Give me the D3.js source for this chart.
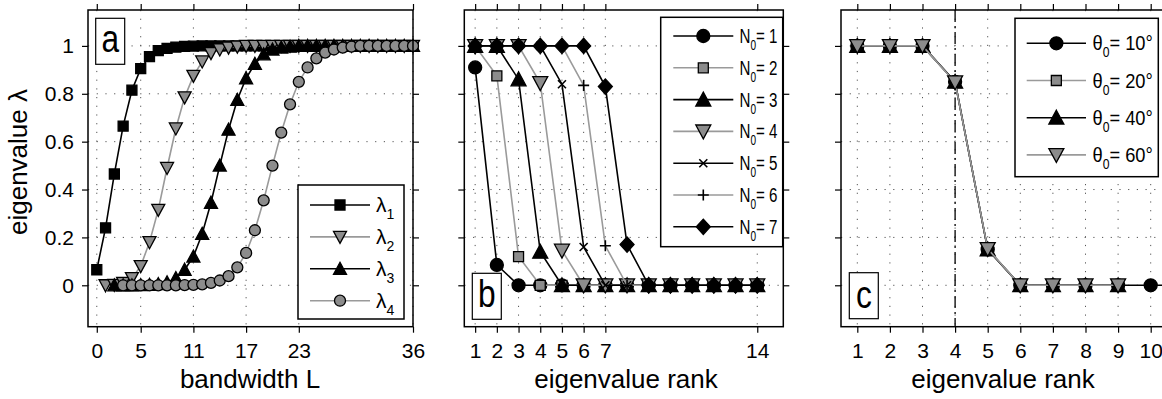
<!DOCTYPE html>
<html>
<head>
<meta charset="utf-8">
<script src="https://cdn.jsdelivr.net/npm/d3@7"></script>
<style>
  body { margin: 0; background: #fff; }
  svg { display: block; }
  text { font-family: "Liberation Sans", Arial, Helvetica, sans-serif; fill: #000; }
</style>
</head>
<body>
<svg id="chart" width="1162" height="399"></svg>
<script>
// ---- data ----
// panel a: eigenvalues vs bandwidth L, lambda_k starts at L = k-1
const lambda1 = [0.065, 0.24, 0.465, 0.665, 0.815, 0.905, 0.955, 0.98, 0.99, 0.995, 0.998, 0.999,
  1, 1, 1, 1, 1, 1, 1, 1, 1, 1, 1, 1, 1, 1, 1, 1, 1, 1, 1, 1, 1, 1, 1, 1, 1];
const lambda2 = [0, 0.002, 0.01, 0.03, 0.08, 0.18, 0.315, 0.49, 0.655, 0.785, 0.875, 0.935, 0.97, 0.985, 0.993, 0.997,
  1, 1, 1, 1, 1, 1, 1, 1, 1, 1, 1, 1, 1, 1, 1, 1, 1, 1, 1, 1];
const lambda3 = [0, 0, 0, 0.001, 0.002, 0.005, 0.012, 0.03, 0.065, 0.12, 0.215, 0.345, 0.5, 0.65, 0.775, 0.865,
  0.925, 0.965, 0.985, 0.993, 0.997, 1, 1, 1, 1, 1, 1, 1, 1, 1, 1, 1, 1, 1, 1];
const lambda4 = [0, 0, 0, 0, 0, 0, 0, 0.001, 0.002, 0.004, 0.01, 0.02, 0.038, 0.075, 0.135, 0.23, 0.355, 0.5,
  0.638, 0.756, 0.85, 0.91, 0.948, 0.972, 0.985, 0.993, 0.997, 1, 1, 1, 1, 1, 1, 1];
const ticksA = [0, 5, 11, 17, 23, 36];

// panel b: eigenvalues vs rank for N0 = 1..7
const n01 = [0.91, 0.085, 0, 0, 0, 0, 0, 0, 0, 0, 0, 0, 0, 0];
const n02 = [1, 0.875, 0.12, 0, 0, 0, 0, 0, 0, 0, 0, 0, 0, 0];
const n03 = [1, 1, 0.86, 0.14, 0, 0, 0, 0, 0, 0, 0, 0, 0, 0];
const n04 = [1, 1, 1, 0.845, 0.145, 0, 0, 0, 0, 0, 0, 0, 0, 0];
const n05 = [1, 1, 1, 1, 0.84, 0.16, 0, 0, 0, 0, 0, 0, 0, 0];
const n06 = [1, 1, 1, 1, 1, 0.835, 0.165, 0, 0, 0, 0, 0, 0, 0];
const n07 = [1, 1, 1, 1, 1, 1, 0.83, 0.17, 0, 0, 0, 0, 0, 0];
const ticksB = [1, 2, 3, 4, 5, 6, 7, 14];

// panel c: eigenvalues vs rank for theta0
const theta10 = [1, 1, 1, 0.85, 0.15, 0, 0, 0, 0, 0, 0];
const theta20 = [1, 1, 1, 0.85, 0.15, 0, 0, 0, 0];
const theta40 = [1, 1, 1, 0.85, 0.15, 0, 0, 0, 0];
const theta60 = [1, 1, 1, 0.848, 0.152, 0, 0, 0, 0];
const ticksC = [1, 2, 3, 4, 5, 6, 7, 8, 9, 10];
const rankMarker = 4;

const yTicks = [0, 0.2, 0.4, 0.6, 0.8, 1];

// ---- styling ----
const GRAY_LINE = "#9a9a9a";
const GRAY_FILL = "#8c8c8c";
const plotTop = 10, plotBottom = 326.7;

const svg = d3.select("#chart");

function markerPath(type, w) {
  const h = w / 2;
  switch (type) {
    case "circle":
      return `M${-h},0a${h},${h} 0 1,0 ${w},0a${h},${h} 0 1,0 ${-w},0Z`;
    case "square":
      return `M${-h},${-h}H${h}V${h}H${-h}Z`;
    case "triUp":
      return `M0,${-h}L${h},${h * 0.85}L${-h},${h * 0.85}Z`;
    case "triDown":
      return `M0,${h}L${h},${-h * 0.85}L${-h},${-h * 0.85}Z`;
    case "diamond":
      return `M0,${-h * 1.1}L${h},0L0,${h * 1.1}L${-h},0Z`;
    case "x":
      return `M${-h},${-h}L${h},${h}M${-h},${h}L${h},${-h}`;
    case "plus":
      return `M${-h},0H${h}M0,${-h}V${h}`;
  }
}

function drawMarker(g, type, size, fill, x, y) {
  const open = type === "x" || type === "plus";
  g.append("path")
    .attr("d", markerPath(type, size))
    .attr("transform", `translate(${x},${y})`)
    .attr("fill", open ? "none" : fill)
    .attr("stroke", "#000")
    .attr("stroke-width", open ? 1.6 : 1.3);
}

function drawPanel(cfg) {
  const g = svg.append("g");
  const x = d3.scaleLinear().domain(cfg.xDomain).range([cfg.left, cfg.right]);
  const y = d3.scaleLinear().domain([-0.173, 1.15]).range([plotBottom, plotTop]);

  // dotted grid
  const grid = g.append("g")
    .attr("stroke", "#555").attr("stroke-width", 1).attr("stroke-dasharray", "1.2,7.5");
  cfg.xTicks.forEach(t => {
    grid.append("line").attr("x1", x(t)).attr("x2", x(t)).attr("y1", plotTop).attr("y2", plotBottom);
  });
  yTicks.forEach(t => {
    grid.append("line").attr("x1", cfg.left).attr("x2", cfg.right).attr("y1", y(t)).attr("y2", y(t));
  });

  if (cfg.vline !== undefined) {
    g.append("line")
      .attr("x1", x(cfg.vline)).attr("x2", x(cfg.vline))
      .attr("y1", plotTop).attr("y2", plotBottom)
      .attr("stroke", "#000").attr("stroke-width", 1.3)
      .attr("stroke-dasharray", "12,4,2,4");
  }

  // axes with outward ticks on all four sides
  const fmt = d => d;
  g.append("g").attr("transform", `translate(0,${plotBottom})`)
    .call(d3.axisBottom(x).tickValues(cfg.xTicks).tickSize(6).tickPadding(10).tickFormat(fmt))
    .call(a => a.select(".domain").remove())
    .call(a => a.selectAll("text").attr("font-size", 21).attr("font-family", null).attr("dy", "0.75em"));
  g.append("g").attr("transform", `translate(0,${plotTop})`)
    .call(d3.axisTop(x).tickValues(cfg.xTicks).tickSize(6).tickFormat(""))
    .call(a => a.select(".domain").remove());
  const left = g.append("g").attr("transform", `translate(${cfg.left},0)`)
    .call(d3.axisLeft(y).tickValues(yTicks).tickSize(6).tickPadding(8)
      .tickFormat(cfg.yLabels ? (d => d) : ""))
    .call(a => a.select(".domain").remove());
  left.selectAll("text").attr("font-size", 21).attr("font-family", null);
  g.append("g").attr("transform", `translate(${cfg.right},0)`)
    .call(d3.axisRight(y).tickValues(yTicks).tickSize(6).tickFormat(""))
    .call(a => a.select(".domain").remove());
  g.selectAll(".tick line").attr("stroke", "#000").attr("stroke-width", 1.2);

  // series
  const line = d3.line().x(d => x(d[0])).y(d => y(d[1]));
  cfg.series.forEach(s => {
    const pts = s.values.map((v, i) => [s.x0 + i, v]);
    g.append("path").datum(pts)
      .attr("d", line)
      .attr("fill", "none")
      .attr("stroke", s.color)
      .attr("stroke-width", 1.6);
    pts.forEach(p => drawMarker(g, s.marker, s.size, s.fill, x(p[0]), y(p[1])));
  });

  // box
  g.append("rect")
    .attr("x", cfg.left).attr("y", plotTop)
    .attr("width", cfg.right - cfg.left).attr("height", plotBottom - plotTop)
    .attr("fill", "none").attr("stroke", "#000").attr("stroke-width", 1.5);

  // panel letter
  const lb = cfg.letterBox;
  const cx = lb[0] + 14.5, by = lb[1] + lb[2];
  g.append("rect").attr("x", lb[0]).attr("y", lb[1]).attr("width", 29).attr("height", 46)
    .attr("fill", "#fff").attr("stroke", "#000").attr("stroke-width", 1.2);
  g.append("text").attr("x", 0).attr("y", 0)
    .attr("text-anchor", "middle").attr("font-size", 36)
    .attr("transform", `translate(${cx},${by}) scale(0.88,1.1)`)
    .text(cfg.letter);

  // legend
  const lg = cfg.legend;
  g.append("rect").attr("x", lg.x).attr("y", lg.y).attr("width", lg.w).attr("height", lg.h)
    .attr("fill", "#fff").attr("stroke", "#000").attr("stroke-width", 1.5);
  cfg.series.forEach((s, i) => {
    const yy = lg.firstY + i * lg.step;
    g.append("line").attr("x1", lg.lineX0).attr("x2", lg.lineX1).attr("y1", yy).attr("y2", yy)
      .attr("stroke", s.color).attr("stroke-width", 1.6);
    drawMarker(g, s.marker, s.size, s.fill, (lg.lineX0 + lg.lineX1) / 2, yy);
    const t = g.append("text").attr("x", 0).attr("y", 0).attr("font-size", 21)
      .attr("transform", `translate(${lg.textX},${yy + 7}) scale(${lg.sx},1)`);
    t.append("tspan").text(s.base);
    t.append("tspan").attr("font-size", 14).attr("dy", 7).text(s.sub);
    if (s.rest) t.append("tspan").attr("dy", -7).text(s.rest);
  });

  // x label
  g.append("text")
    .attr("x", cfg.labelX).attr("y", 388)
    .attr("text-anchor", "middle").attr("font-size", 26)
    .text(cfg.xLabel);
}

drawPanel({
  left: 88, right: 413, xDomain: [-1, 36], xTicks: ticksA, yLabels: true,
  xLabel: "bandwidth L", labelX: 250,
  letter: "a", letterBox: [95.7, 18.3, 34],
  series: [
    { values: lambda1, x0: 0, color: "#000", marker: "square", size: 10, fill: "#000", base: "λ", sub: "1" },
    { values: lambda2, x0: 1, color: GRAY_LINE, marker: "triDown", size: 13, fill: GRAY_FILL, base: "λ", sub: "2" },
    { values: lambda3, x0: 2, color: "#000", marker: "triUp", size: 13, fill: "#000", base: "λ", sub: "3" },
    { values: lambda4, x0: 3, color: GRAY_LINE, marker: "circle", size: 11, fill: GRAY_FILL, base: "λ", sub: "4" }
  ],
  legend: { x: 298, y: 185, w: 106, h: 134, firstY: 205, step: 31.9, lineX0: 310, lineX1: 370, textX: 376, sx: 1 }
});

drawPanel({
  left: 464.3, right: 783.3, xDomain: [0.5, 15.2], xTicks: ticksB, yLabels: false,
  xLabel: "eigenvalue rank", labelX: 626,
  letter: "b", letterBox: [472.3, 273.3, 34],
  series: [
    { values: n01, x0: 1, color: "#000", marker: "circle", size: 13, fill: "#000", base: "N", sub: "0", rest: "= 1" },
    { values: n02, x0: 1, color: GRAY_LINE, marker: "square", size: 10, fill: GRAY_FILL, base: "N", sub: "0", rest: "= 2" },
    { values: n03, x0: 1, color: "#000", marker: "triUp", size: 15, fill: "#000", base: "N", sub: "0", rest: "= 3" },
    { values: n04, x0: 1, color: GRAY_LINE, marker: "triDown", size: 15, fill: GRAY_FILL, base: "N", sub: "0", rest: "= 4" },
    { values: n05, x0: 1, color: "#000", marker: "x", size: 8, fill: "#000", base: "N", sub: "0", rest: "= 5" },
    { values: n06, x0: 1, color: GRAY_LINE, marker: "plus", size: 11, fill: "#000", base: "N", sub: "0", rest: "= 6" },
    { values: n07, x0: 1, color: "#000", marker: "diamond", size: 14, fill: "#000", base: "N", sub: "0", rest: "= 7" }
  ],
  legend: { x: 660.7, y: 17.3, w: 122, h: 229.4, firstY: 36, step: 31.8, lineX0: 673.3, lineX1: 733.3, textX: 739.5, sx: 0.72 }
});

drawPanel({
  left: 841, right: 1167, xDomain: [0.5, 10.5], xTicks: ticksC, yLabels: false,
  xLabel: "eigenvalue rank", labelX: 1003, vline: rankMarker,
  letter: "c", letterBox: [849.3, 272.7, 35],
  series: [
    { values: theta10, x0: 1, color: "#000", marker: "circle", size: 13, fill: "#000", base: "θ", sub: "0", rest: "= 10°" },
    { values: theta20, x0: 1, color: GRAY_LINE, marker: "square", size: 10, fill: GRAY_FILL, base: "θ", sub: "0", rest: "= 20°" },
    { values: theta40, x0: 1, color: "#000", marker: "triUp", size: 15, fill: "#000", base: "θ", sub: "0", rest: "= 40°" },
    { values: theta60, x0: 1, color: GRAY_LINE, marker: "triDown", size: 15, fill: GRAY_FILL, base: "θ", sub: "0", rest: "= 60°" }
  ],
  legend: { x: 1015, y: 18.3, w: 143.3, h: 158.4, firstY: 43.3, step: 37.2, lineX0: 1026.7, lineX1: 1086, textX: 1092.5, sx: 0.87 }
});

// shared y label
svg.append("text")
  .attr("transform", "translate(27,162) rotate(-90)")
  .attr("text-anchor", "middle")
  .attr("font-size", 26)
  .text("eigenvalue λ");
</script>
</body>
</html>
